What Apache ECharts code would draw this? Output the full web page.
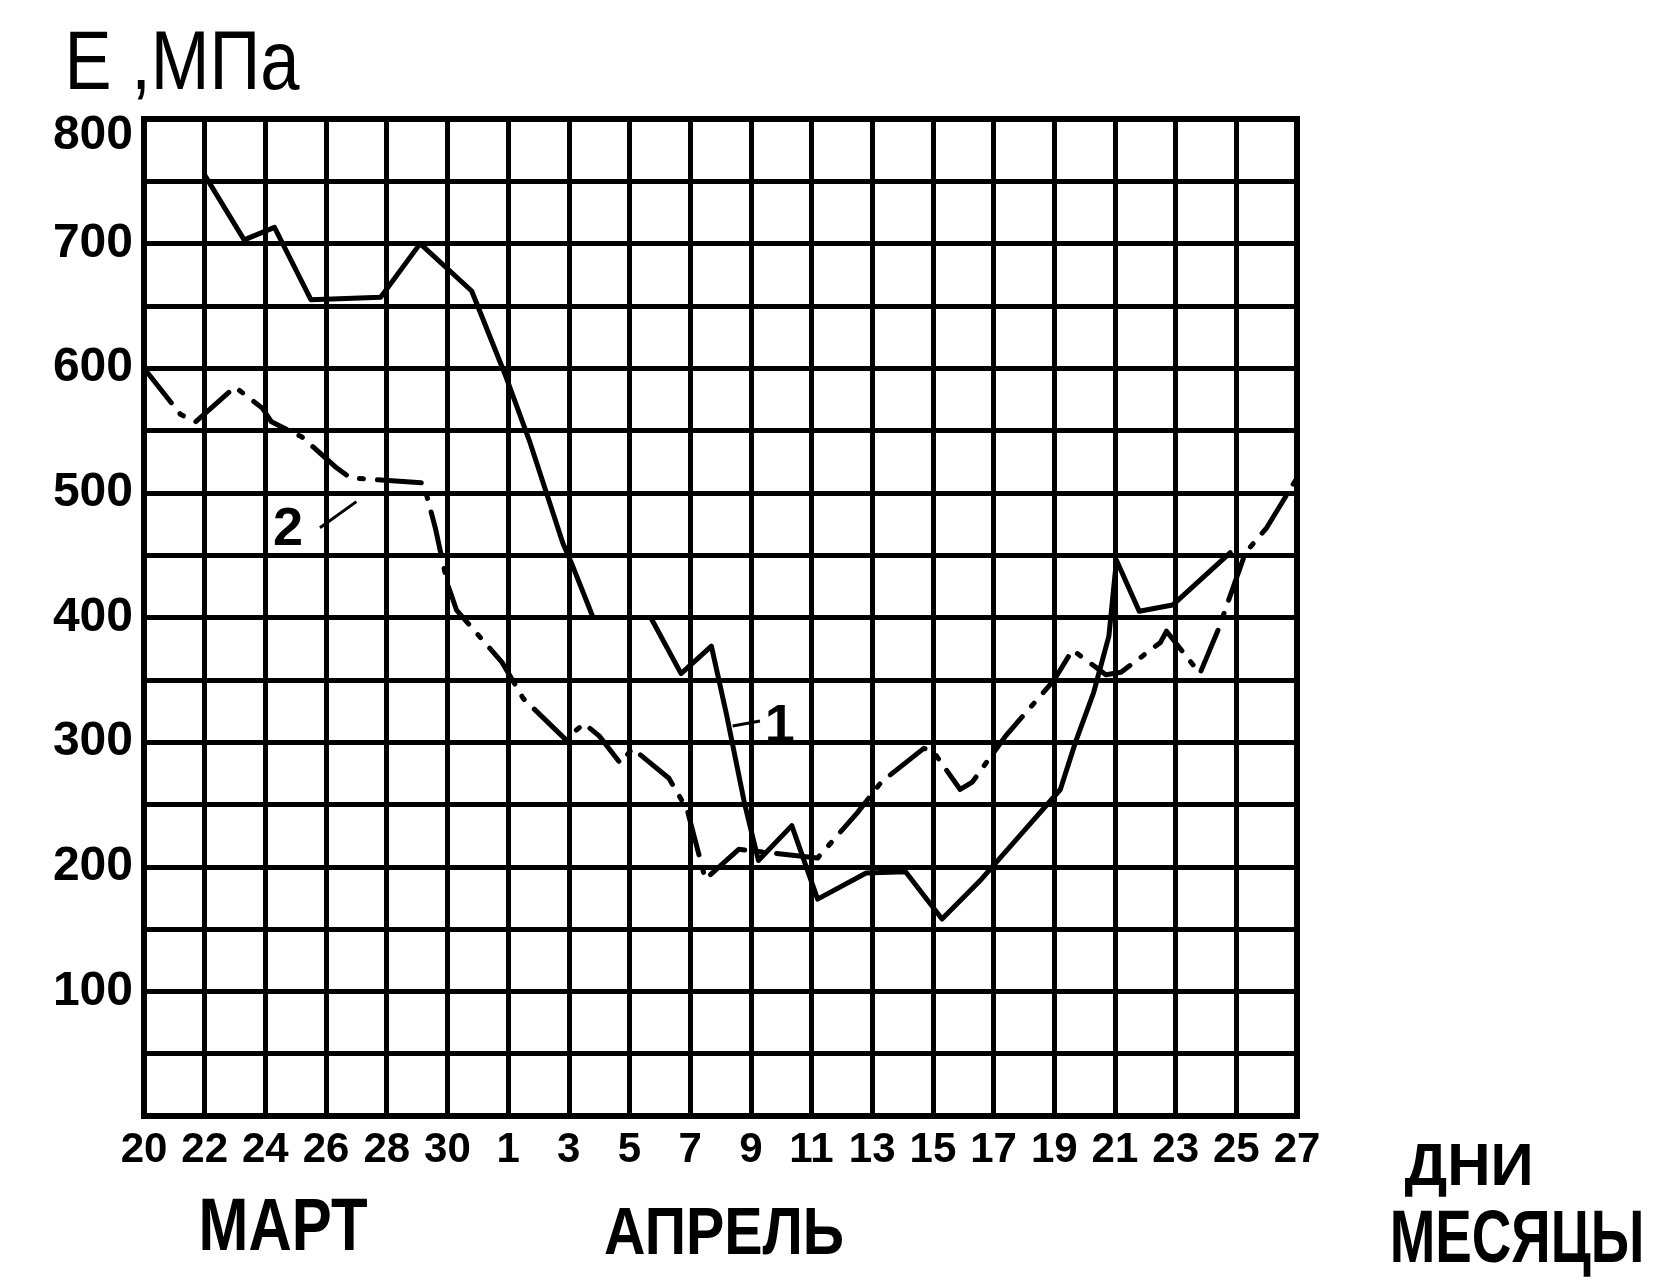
<!DOCTYPE html>
<html>
<head>
<meta charset="utf-8">
<title>E, МПа</title>
<script src="https://cdn.jsdelivr.net/npm/echarts@6/dist/echarts.min.js"></script>
<style>
  html, body { margin: 0; padding: 0; background: #fff; }
  #main { width: 1672px; height: 1288px; }
</style>
</head>
<body>
<div id="main"></div>
<script>
// подписи оси X: каждый второй день, с 20 марта по 27 апреля
const dayTicks = ['20', '22', '24', '26', '28', '30', '1', '3', '5', '7', '9', '11', '13', '15', '17', '19', '21', '23', '25', '27'];
const eTicks = [100, 200, 300, 400, 500, 600, 700, 800];

// кривая 1 (сплошная): день от 20 марта и E, МПа
const curve1Days = [2, 3.3, 4.3, 5.5, 7.8, 9.1, 10.8, 11.9, 12.7, 13.8, 14.1, 14.8, 16.7, 17.7, 18.7, 19.2, 19.8, 20.25, 21.35, 22.2, 23.8, 25.1, 26.3, 27.6, 28.9, 30.2, 30.7, 31.3, 31.8, 32.05, 32.8, 33.9, 35.8];
const curve1E = [755, 703, 713, 655, 657, 700, 662, 595, 542, 460, 443, 400, 400, 355, 377, 322, 250, 205, 233, 174, 195, 196, 158, 190, 226, 262, 300, 340, 385, 446, 405, 410, 452];

// кривая 2 (штрих-пунктир)
const curve2Days = [0, 1.2, 1.7, 3.0, 3.9, 4.2, 5.2, 6.3, 6.8, 9.2, 9.35, 9.6, 10.0, 10.3, 11.8, 12.5, 13.9, 14.5, 15.0, 15.7, 16.1, 17.3, 17.9, 18.5, 19.6, 22.2, 23.5, 24.3, 25.7, 26.0, 26.9, 27.3, 28.4, 30.0, 30.6, 31.7, 32.2, 33.5, 33.7, 34.8, 35.4, 36.3, 37.0, 38.0];
const curve2E = [600, 563, 557, 585, 568, 557, 545, 521, 512, 508, 495, 472, 427, 406, 364, 335, 302, 315, 305, 283, 295, 271, 246, 190, 214, 207, 243, 268, 295, 293, 262, 268, 305, 350, 374, 354, 356, 380, 389, 355, 390, 452, 472, 512];

// выноски с номерами кривых
const leader1 = [[19.4, 313], [20.3, 317]];
const leader2 = [[5.8, 472], [7.0, 493]];
const tag1 = [20.95, 312];
const tag2 = [4.75, 470];

const FONT = '"Liberation Sans", Arial, sans-serif';
const toPairs = (xs, ys) => xs.map((x, i) => [x, ys[i]]);

const chart = echarts.init(document.getElementById('main'));

// подпись на листе: центр (x, y), сжатие по ширине
const sheetText = (text, x, y, font, scaleX) => ({
  type: 'text',
  x: x,
  y: y,
  scaleX: scaleX,
  style: {
    text: text,
    fill: '#000',
    font: font,
    align: 'center',
    verticalAlign: 'middle',
    textAlign: 'center',
    textVerticalAlign: 'middle',
  },
});

const tagLabel = (text, size) => ({
  show: true,
  position: 'inside',
  formatter: text,
  color: '#000',
  fontFamily: FONT,
  fontWeight: 'bold',
  fontSize: size,
});

const option = {
  backgroundColor: '#fff',
  animation: false,
  grid: {
    left: 144,
    right: 375,
    top: 119,
    bottom: 172,
    show: true,
    borderColor: '#000',
    borderWidth: 6,
  },
  xAxis: {
    type: 'value',
    min: 0,
    max: 38,
    interval: 2,
    axisLine: { show: false },
    axisTick: { show: false },
    axisLabel: {
      margin: 13,
      color: '#000',
      fontFamily: FONT,
      fontWeight: 'bold',
      fontSize: 42,
      formatter: (v) => dayTicks[Math.round(v / 2)] || '',
    },
    splitLine: { show: true, lineStyle: { color: '#000', width: 5 } },
  },
  yAxis: {
    type: 'value',
    min: 0,
    max: 800,
    interval: 50,
    axisLine: { show: false },
    axisTick: { show: false },
    axisLabel: {
      margin: 11,
      color: '#000',
      fontFamily: FONT,
      fontWeight: 'bold',
      fontSize: 48,
      // верхняя подпись на оригинале сидит чуть ниже линии
      formatter: (v) => {
        if (!eTicks.includes(v)) return '';
        return v === 800 ? '{top|' + v + '}' : String(v);
      },
      rich: {
        top: {
          color: '#000',
          fontFamily: FONT,
          fontWeight: 'bold',
          fontSize: 48,
          padding: [34, 0, 0, 0],
        },
      },
    },
    splitLine: { show: true, lineStyle: { color: '#000', width: 5 } },
  },
  series: [
    {
      name: '1',
      type: 'line',
      symbol: 'none',
      data: toPairs(curve1Days, curve1E),
      lineStyle: { color: '#000', width: 5, join: 'round', cap: 'round' },
    },
    {
      name: '2',
      type: 'line',
      symbol: 'none',
      data: toPairs(curve2Days, curve2E),
      lineStyle: { color: '#000', width: 5, type: [44, 14, 4, 14], cap: 'round', join: 'round' },
    },
    {
      type: 'line',
      symbol: 'none',
      data: leader1,
      lineStyle: { color: '#000', width: 3 },
    },
    {
      type: 'line',
      symbol: 'none',
      data: leader2,
      lineStyle: { color: '#000', width: 3 },
    },
    {
      type: 'scatter',
      symbolSize: 1,
      itemStyle: { color: 'transparent', opacity: 1 },
      data: [
        { value: tag1, label: tagLabel('1', 54) },
        { value: tag2, label: tagLabel('2', 54) },
      ],
    },
  ],
  graphic: [
    sheetText('Е ,МПа', 182, 66, '84px ' + FONT, 0.84),
    sheetText('МАРТ', 283, 1230, 'bold 74px ' + FONT, 0.81),
    sheetText('АПРЕЛЬ', 724, 1236, 'bold 66px ' + FONT, 0.87),
    sheetText('ДНИ', 1469, 1168, 'bold 60px ' + FONT, 1.0),
    sheetText('МЕСЯЦЫ', 1517, 1242, 'bold 74px ' + FONT, 0.74),
  ],
};

chart.setOption(option);
window.addEventListener('resize', () => chart.resize());
</script>
</body>
</html>
